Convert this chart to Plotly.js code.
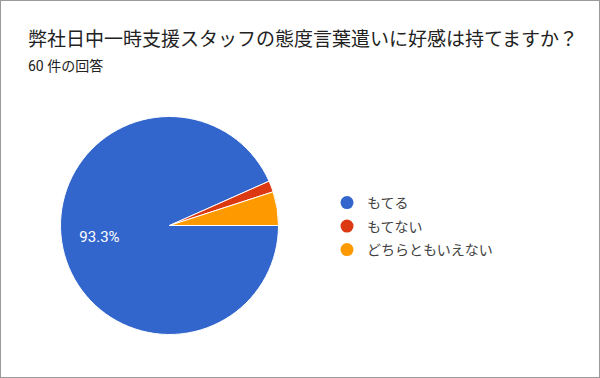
<!DOCTYPE html>
<html><head><meta charset="utf-8">
<script src="https://cdn.plot.ly/plotly-3.0.1.min.js"></script>
<style>
html,body{margin:0;padding:0;background:#fff;}
#wrap{width:600px;height:378px;box-sizing:border-box;border:1px solid #9a9a9a;background:#fff;}
#chart{width:598px;height:376px;}
</style></head>
<body><div id="wrap"><div id="chart"></div></div>
<script>
const titleText = "弊社日中一時支援スタッフの態度言葉遣いに好感は持てますか？";
const subtitleText = "60 件の回答";
const categories = ["もてる", "もてない", "どちらともいえない"];
const counts = [56, 1, 3];
const colors = ["#3366CC", "#DC3912", "#FF9900"];
const labelTemplates = ["%{percent:.1%}\u00a0\u00a0\u00a0\u00a0\u00a0\u00a0\u00a0\u00a0\u00a0", "", ""];

const FONT = "Roboto, 'Noto Sans CJK JP', Arial, sans-serif";
const W = 598, H = 376;

const traces = [{
  type: "pie",
  labels: categories,
  values: counts,
  sort: false,
  direction: "clockwise",
  rotation: 90,
  marker: {colors: colors, line: {color: "#ffffff", width: 1}},
  texttemplate: labelTemplates,
  textposition: "inside",
  insidetextorientation: "horizontal",
  insidetextfont: {family: FONT, size: 15, color: "#ffffff"},
  hoverinfo: "label+percent",
  showlegend: false,
  domain: {x: [59.5 / W, 277.5 / W], y: [42.5 / H, 260.5 / H]}
}];

const legendNames = ["legend", "legend2", "legend3"];
const legendY = [202, 225.5, 249];
categories.forEach((c, i) => {
  traces.push({
    type: "scatter", mode: "markers", x: [null], y: [null], name: c,
    marker: {symbol: "circle", size: 13, color: colors[i]},
    showlegend: true, legend: legendNames[i], hoverinfo: "skip"
  });
});

const layout = {
  width: W, height: H,
  margin: {l: 0, r: 0, t: 0, b: 0},
  paper_bgcolor: "#ffffff", plot_bgcolor: "#ffffff",
  font: {family: FONT, color: "#444444"},
  xaxis: {visible: false, range: [0, 1]},
  yaxis: {visible: false, range: [0, 1]},
  annotations: [
    {text: titleText, xref: "paper", yref: "paper", x: 25 / W, y: 1 - 38.5 / H,
     xanchor: "left", yanchor: "middle", showarrow: false,
     font: {family: FONT, size: 19, color: "#222222"}},
    {text: subtitleText, xref: "paper", yref: "paper", x: 25 / W, y: 1 - 65.5 / H,
     xanchor: "left", yanchor: "middle", showarrow: false,
     font: {family: FONT, size: 14, color: "#222222"}}
  ]
};
legendNames.forEach((ln, i) => {
  layout[ln] = {
    x: 326 / W, y: 1 - legendY[i] / H, xanchor: "left", yanchor: "middle",
    bgcolor: "rgba(0,0,0,0)", borderwidth: 0,
    font: {family: FONT, size: 14, color: "#424242"}
  };
});

Plotly.newPlot("chart", traces, layout, {displayModeBar: false, staticPlot: true});
</script></body></html>
